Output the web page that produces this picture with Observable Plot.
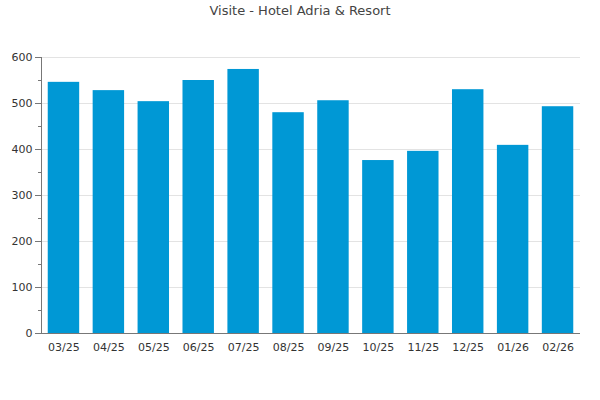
<!DOCTYPE html>
<html><head><meta charset="utf-8">
<script src="https://cdn.jsdelivr.net/npm/d3@7"></script>
<script src="https://cdn.jsdelivr.net/npm/@observablehq/plot@0.6"></script>
<style>
body{margin:0;background:#fff;font-family:"DejaVu Sans",sans-serif;}
#wrap{position:relative;width:600px;height:400px;}
#title{position:absolute;left:0;top:3px;width:600px;text-align:center;font-size:13px;color:#444;}
#chart{position:absolute;left:0;top:0;}
</style></head>
<body><div id="wrap"><div id="title">Visite - Hotel Adria &amp; Resort</div><div id="chart"></div></div>
<script>
const months = ["03/25","04/25","05/25","06/25","07/25","08/25","09/25","10/25","11/25","12/25","01/26","02/26"];
const visits = [546,528,504,550,574,480,506,376,396,530,409,493];
const yTicks = [0,100,200,300,400,500,600];
const yMinor = [50,150,250,350,450,550];

const data = months.map((m,i)=>({month:m, value:visits[i]}));
const plot = Plot.plot({
  width:600, height:400,
  marginTop:57, marginBottom:67, marginLeft:41, marginRight:20,
  style:{fontFamily:"DejaVu Sans, sans-serif", fontSize:"11px", color:"#333", background:"transparent"},
  x:{domain:months, paddingInner:0.3, paddingOuter:0.15, round:false, label:null},
  y:{domain:[0,600], label:null},
  marks:[
    Plot.ruleY(yTicks.filter(d=>d>0), {stroke:"#e3e3e3", strokeWidth:1}),
    Plot.barY(data, {x:"month", y:"value", fill:"#0098d5"}),
    Plot.axisY({ticks:yTicks, tickSize:6, tickPadding:3, stroke:"#777", label:null, fill:"#333"}),
    Plot.axisY({ticks:yMinor, tickSize:3, tickFormat:()=>"", stroke:"#777", label:null}),
    Plot.axisX({tickSize:0, tickPadding:10, label:null, fill:"#333"}),
    Plot.frame({anchor:"left", stroke:"#777"}),
    Plot.ruleY([0], {stroke:"#777"})
  ]
});
document.getElementById("chart").appendChild(plot);
</script></body></html>
